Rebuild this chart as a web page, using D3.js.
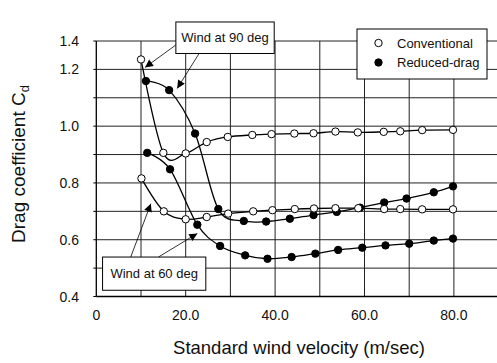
<!DOCTYPE html>
<html>
<head>
<meta charset="utf-8">
<script src="https://cdn.jsdelivr.net/npm/d3@7"></script>
<style>
  html, body { margin: 0; padding: 0; background: #fff; }
  svg { display: block; font-family: Arial, "Liberation Sans", sans-serif; }
</style>
</head>
<body>
<svg id="chart" width="497" height="363"></svg>
<script>
// Drag coefficient vs standard wind velocity
const conv90X = [10.0, 15.0, 20.0, 24.7, 29.4, 34.9, 39.2, 44.3, 48.6, 53.5, 58.5, 64.3, 68.0, 72.9, 79.8];
const conv90Y = [1.235, 0.906, 0.904, 0.944, 0.962, 0.969, 0.972, 0.974, 0.975, 0.981, 0.978, 0.980, 0.982, 0.986, 0.987];

const red90X = [11.1, 16.3, 22.1, 27.3, 33.0, 38.0, 43.3, 48.6, 53.8, 59.0, 64.4, 69.4, 75.5, 79.8];
const red90Y = [1.159, 1.127, 0.974, 0.708, 0.666, 0.664, 0.674, 0.687, 0.698, 0.713, 0.731, 0.745, 0.767, 0.788];

const conv60X = [10.1, 15.1, 20.0, 24.7, 29.5, 35.1, 39.4, 44.4, 48.7, 53.5, 58.6, 64.4, 68.0, 72.9, 79.8];
const conv60Y = [0.816, 0.700, 0.672, 0.680, 0.692, 0.700, 0.704, 0.708, 0.710, 0.711, 0.711, 0.708, 0.708, 0.707, 0.707];

const red60X = [11.4, 16.5, 22.6, 27.7, 33.3, 38.3, 43.7, 49.0, 54.1, 59.5, 64.7, 70.0, 75.5, 79.8];
const red60Y = [0.906, 0.848, 0.653, 0.578, 0.545, 0.533, 0.539, 0.551, 0.564, 0.572, 0.580, 0.586, 0.597, 0.604];

const xTickValues = [0, 20, 40, 60, 80];
const xTickLabels = ["0", "20.0", "40.0", "60.0", "80.0"];
const yTickValues = [0.4, 0.6, 0.8, 1.0, 1.2, 1.3];
const yTickLabels = ["0.4", "0.6", "0.8", "1.0", "1.2", "1.4"];
const legendLabels = ["Conventional", "Reduced-drag"];

const svg = d3.select("#chart");
const W = 497, H = 363;
const x = d3.scaleLinear().domain([0, 90]).range([96.3, 498.6]);
const y = d3.scaleLinear().domain([0.4, 1.3]).range([296.5, 41]);

// grid
const grid = svg.append("g").attr("stroke", "#222").attr("stroke-width", 1);
d3.range(10, 90, 10).forEach(v => {
  grid.append("line").attr("x1", x(v)).attr("x2", x(v)).attr("y1", y(0.4)).attr("y2", y(1.3));
});
d3.range(0.5, 1.31, 0.1).forEach(v => {
  grid.append("line").attr("x1", x(0)).attr("x2", x(90)).attr("y1", y(v)).attr("y2", y(v));
});

// axes
svg.append("line").attr("x1", x(0)).attr("x2", x(90)).attr("y1", y(0.4)).attr("y2", y(0.4))
  .attr("stroke", "#000").attr("stroke-width", 1.3);
svg.append("line").attr("x1", x(0)).attr("x2", x(0)).attr("y1", y(0.4)).attr("y2", y(1.3))
  .attr("stroke", "#000").attr("stroke-width", 1.3);
d3.range(0.4, 1.31, 0.1).forEach(v => {
  svg.append("line").attr("x1", x(0) - 3).attr("x2", x(0)).attr("y1", y(v)).attr("y2", y(v))
    .attr("stroke", "#000");
});

xTickValues.forEach((v, i) => {
  svg.append("text").attr("x", x(v)).attr("y", 320).attr("text-anchor", "middle")
    .attr("font-size", 14).attr("fill", "#111").text(xTickLabels[i]);
});
yTickValues.forEach((v, i) => {
  svg.append("text").attr("x", 79).attr("y", y(v)).attr("dy", "0.36em").attr("text-anchor", "end")
    .attr("font-size", 14).attr("fill", "#111").text(yTickLabels[i]);
});

svg.append("text").attr("x", 299).attr("y", 354).attr("text-anchor", "middle")
  .attr("font-size", 18.5).attr("fill", "#111").text("Standard wind velocity (m/sec)");
const yt = svg.append("text").attr("transform", "translate(25,164) rotate(-90)")
  .attr("text-anchor", "middle").attr("font-size", 19).attr("fill", "#111");
yt.append("tspan").text("Drag coefficient C");
yt.append("tspan").attr("font-size", 13).attr("dy", 4).text("d");

// series
const line = d3.line().x(d => x(d[0])).y(d => y(d[1])).curve(d3.curveCatmullRom.alpha(0));
const series = [
  { xs: conv90X, ys: conv90Y, filled: false },
  { xs: red90X, ys: red90Y, filled: true },
  { xs: conv60X, ys: conv60Y, filled: false },
  { xs: red60X, ys: red60Y, filled: true }
];
series.forEach(s => {
  const pts = s.xs.map((v, i) => [v, s.ys[i]]);
  svg.append("path").attr("d", line(pts)).attr("fill", "none")
    .attr("stroke", "#000").attr("stroke-width", 1.3);
});
series.forEach(s => {
  const pts = s.xs.map((v, i) => [v, s.ys[i]]);
  svg.append("g").selectAll("circle").data(pts).join("circle")
    .attr("cx", d => x(d[0])).attr("cy", d => y(d[1])).attr("r", 3.7)
    .attr("fill", s.filled ? "#000" : "#fff").attr("stroke", "#000").attr("stroke-width", 1);
});

// arrow marker
svg.append("defs").append("marker").attr("id", "arr")
  .attr("viewBox", "0 0 10 10").attr("refX", 10).attr("refY", 5)
  .attr("markerWidth", 11).attr("markerHeight", 8).attr("markerUnits", "userSpaceOnUse")
  .attr("orient", "auto")
  .append("path").attr("d", "M0,0L10,5L0,10Z").attr("fill", "#000");

// annotations (data coords)
function note(x0, y0, x1, y1, label, arrows) {
  arrows.forEach(a => {
    svg.append("line").attr("x1", x(a[0])).attr("y1", y(a[1])).attr("x2", x(a[2])).attr("y2", y(a[3]))
      .attr("stroke", "#000").attr("stroke-width", 0.8).attr("marker-end", "url(#arr)");
  });
  svg.append("rect").attr("x", x(x0)).attr("y", y(y1)).attr("width", x(x1) - x(x0)).attr("height", y(y0) - y(y1))
    .attr("fill", "#fff").attr("stroke", "#000").attr("stroke-width", 1);
  svg.append("text").attr("x", (x(x0) + x(x1)) / 2).attr("y", (y(y0) + y(y1)) / 2).attr("dy", "0.36em")
    .attr("text-anchor", "middle").attr("font-size", 13).attr("fill", "#111").text(label);
}
note(17.8, 1.256, 39.8, 1.367, "Wind at 90 deg", [[17.8, 1.286, 10.9, 1.207], [23.0, 1.256, 18.1, 1.133]]);
note(1.4, 0.422, 24.5, 0.539, "Wind at 60 deg", [[7.7, 0.539, 12.2, 0.727], [13.9, 0.539, 22.6, 0.622]]);

// legend
const lg = svg.append("g").attr("transform", "translate(357,29)");
lg.append("rect").attr("width", 130).attr("height", 50).attr("fill", "#fff").attr("stroke", "#000");
legendLabels.forEach((t, i) => {
  lg.append("circle").attr("cx", 21.5).attr("cy", 14 + i * 19.5).attr("r", 3.7)
    .attr("fill", i ? "#000" : "#fff").attr("stroke", "#000");
  lg.append("text").attr("x", 40).attr("y", 14 + i * 19.5).attr("dy", "0.36em")
    .attr("font-size", 13).attr("fill", "#111").text(t);
});
</script>
</body>
</html>
